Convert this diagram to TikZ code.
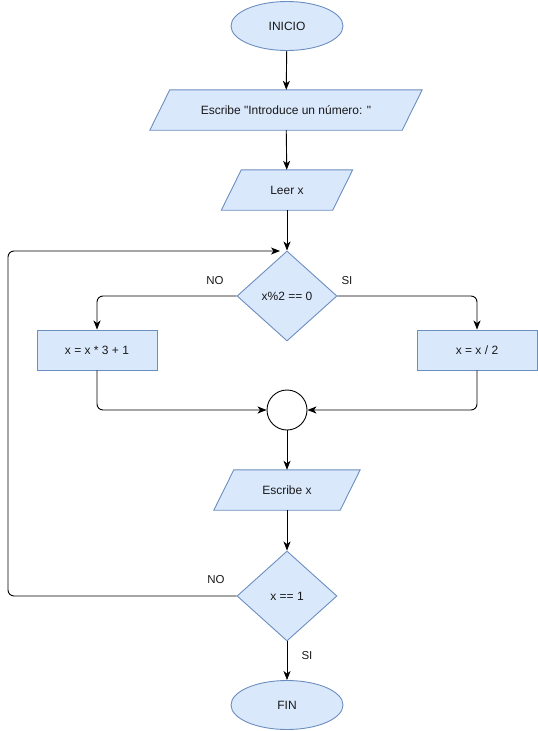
\documentclass[tikz,border=0pt]{standalone}
\usepackage{fontspec}
\setmainfont{Liberation Sans}[Ligatures=TeXOff]
\usetikzlibrary{arrows.meta,shapes.geometric,calc}
\definecolor{boxfill}{HTML}{DAE8FC}
\definecolor{boxline}{HTML}{6C8EBF}
\begin{document}
\begin{tikzpicture}[x=1pt,y=-1pt,
  every node/.style={font=\fontsize{12}{14}\selectfont, text=black!90, inner sep=0pt},
  shapebox/.style={draw=boxline, fill=boxfill, line width=0.9pt},
  terminal/.style={shapebox, ellipse, minimum width=112pt, minimum height=49pt},
  procbox/.style={shapebox, rectangle, minimum width=120pt, minimum height=40pt},
  decision/.style={shapebox, diamond, minimum width=100pt, minimum height=90pt, aspect=1.11},
  iobody/.style={rectangle, minimum height=40pt},
  joint/.style={circle, draw=black, fill=white, line width=0.9pt, minimum size=40pt},
  arr/.style={draw=black, line width=0.9pt, -{Stealth[length=9pt,width=7pt,inset=2.5pt]}},
  lbl/.style={font=\fontsize{11.5}{14}\selectfont}
]
\useasboundingbox (0,0) rectangle (538,731);

% start / end
\node[terminal] (ini) at (287,26) {INICIO};
\node[terminal] (fin) at (287,705) {FIN};

% input/output parallelograms: an undrawn body plus its slanted outline
\newcommand{\iobox}[4]{%
  \node[iobody, minimum width=#3] (#1) at #2 {};
  \path[shapebox] ([xshift=-10pt]#1.south west) -- ([xshift=10pt]#1.north west)
     -- ([xshift=10pt]#1.north east) -- ([xshift=-10pt]#1.south east) -- cycle;
  \node at (#1.center) {#4};}

\iobox{msg}{(286,110)}{252pt}{Escribe "Introduce un número: "}
\iobox{leer}{(287,190)}{111pt}{Leer x}
\iobox{esc}{(287,490)}{126pt}{Escribe x}

% decisions
\node[decision] (par) at (287,296) {x\%2 == 0};
\node[decision] (uno) at (287,596) {x == 1};

% branch bodies
\node[procbox] (impar) at (97,350) {x = x * 3 + 1};
\node[procbox] (mitad) at (477,350) {x = x / 2};

% merge point
\node[joint] (junta) at (287,410) {};

% loop return points
\coordinate (loopcorner) at (8,251);
\coordinate (loopin) at (280,251);

% connectors
\draw[arr] (ini) -- (msg);
\draw[arr] (msg) -- (leer);
\draw[arr] (leer) -- (par.north);
\draw[arr, rounded corners=6pt] (par.west) -| (impar.north);
\draw[arr, rounded corners=6pt] (par.east) -| (mitad.north);
\draw[arr, rounded corners=6pt] (impar.south) |- (junta.west);
\draw[arr, rounded corners=6pt] (mitad.south) |- (junta.east);
\draw[arr] (junta) -- (esc);
\draw[arr] (esc) -- (uno.north);
\draw[arr] (uno.south) -- (fin);
\draw[arr, rounded corners=6pt] (uno.west) -| (loopcorner) -- (loopin);

% branch labels
\node[lbl] at (215,281) {NO};
\node[lbl] at (347,281) {SI};
\node[lbl] at (216,580) {NO};
\node[lbl] at (307,656) {SI};
\end{tikzpicture}
\end{document}
